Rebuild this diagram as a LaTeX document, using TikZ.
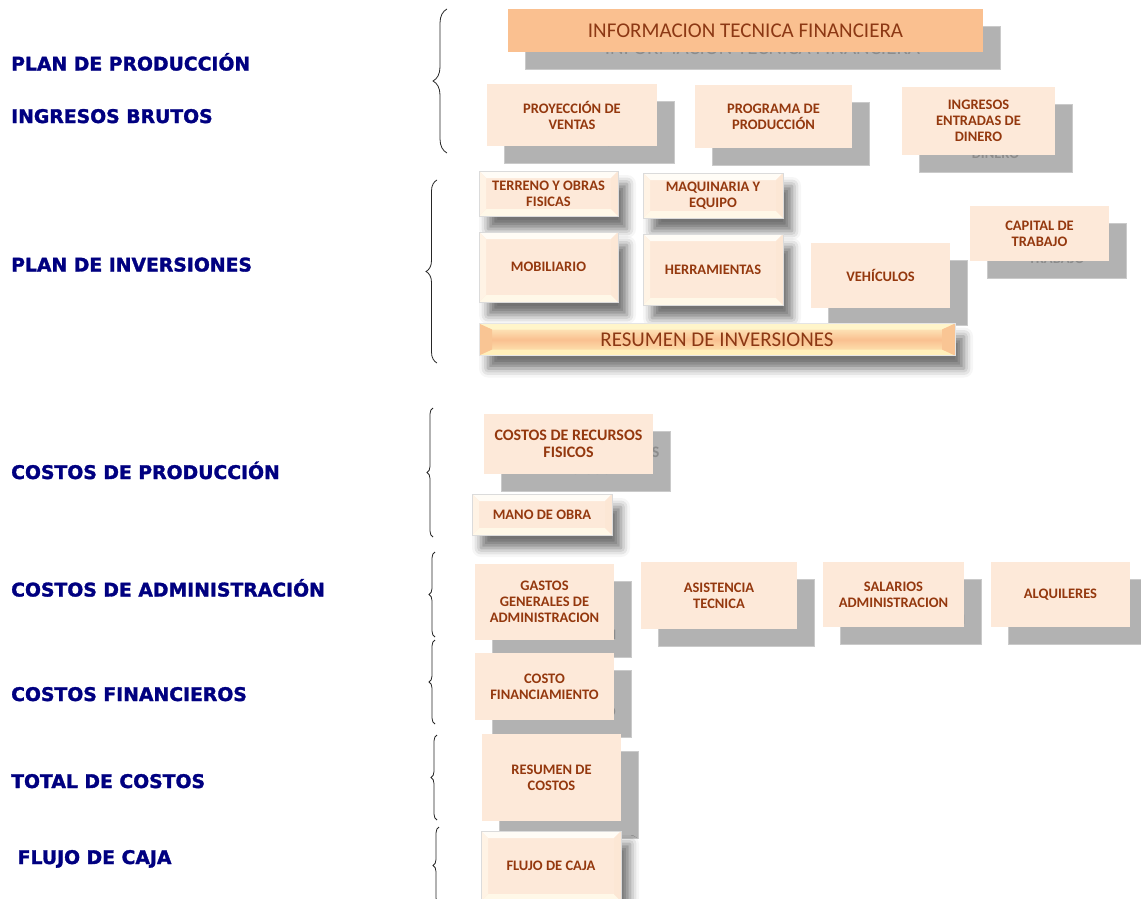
\documentclass[tikz,border=0pt]{standalone}
\usepackage{fontspec}
\setmainfont{Carlito}
\newfontfamily\headfamily{DejaVu Sans}[BoldFeatures={FakeBold=1.6}]
\usetikzlibrary{decorations.pathreplacing,shadows.blur}

\definecolor{navy}{RGB}{0,0,128}
\definecolor{peachface}{RGB}{253,233,217}
\definecolor{titleorange}{RGB}{250,192,144}
\definecolor{cardtext}{RGB}{148,56,14}
\definecolor{titletext}{RGB}{140,56,20}
\definecolor{shadowgray}{RGB}{178,178,178}
\definecolor{shadowedge}{RGB}{202,202,202}
\definecolor{ghostgray}{RGB}{140,140,140}
\definecolor{bevtop}{RGB}{255,252,246}
\definecolor{bevbot}{RGB}{255,248,232}
\definecolor{bevleft}{RGB}{255,243,229}
\definecolor{bevright}{RGB}{252,231,213}
\definecolor{bartop}{RGB}{255,245,202}
\definecolor{barbot}{RGB}{255,239,186}
\definecolor{barside}{RGB}{249,197,148}

\newcommand\cardfont{\fontsize{14.5}{16}\selectfont\bfseries}
\newcommand\bigfont{\fontsize{21}{24}\selectfont}
\newcommand\headfont{\headfamily\bfseries\fontsize{18.8}{22}\selectfont}

\pgfdeclarelayer{background}
\pgfsetlayers{background,main}

\tikzset{
  wh/.style 2 args={minimum width=#1pt, minimum height=#2pt},
  head/.style={anchor=base west, inner sep=0pt, text=navy, font=\headfont},
  curly/.style={decorate, decoration={brace, amplitude=#1},
    line width=0.8pt, draw=black!85},
  card/.style={fill=peachface, text=cardtext, font=\cardfont,
    align=center, inner sep=0pt, outer sep=0pt},
  cardghost/.style={fill=shadowgray, draw=shadowedge, line width=0.6pt,
    text=ghostgray, font=\cardfont, align=center, inner sep=0pt},
  titlecard/.style={fill=titleorange, text=titletext, font=\bigfont,
    inner sep=0pt},
  titleghost/.style={fill=shadowgray, draw=shadowedge, line width=0.6pt,
    text=ghostgray, font=\bigfont, inner sep=0pt},
  bevelfaces/.style n args={6}{path picture={
    \coordinate (pnw) at (path picture bounding box.north west);
    \coordinate (pne) at (path picture bounding box.north east);
    \coordinate (psw) at (path picture bounding box.south west);
    \coordinate (pse) at (path picture bounding box.south east);
    \fill[#3] (pnw) -- (pne) -- ([shift={(-#1,-#2)}]pne)
      -- ([shift={(#1,-#2)}]pnw) -- cycle;
    \fill[#4] (psw) -- (pse) -- ([shift={(-#1,#2)}]pse)
      -- ([shift={(#1,#2)}]psw) -- cycle;
    \fill[#5] (pnw) -- ([shift={(#1,-#2)}]pnw)
      -- ([shift={(#1,#2)}]psw) -- (psw) -- cycle;
    \fill[#6] (pne) -- ([shift={(-#1,-#2)}]pne)
      -- ([shift={(-#1,#2)}]pse) -- (pse) -- cycle;
  }},
  softshadow/.style={blur shadow={shadow xshift=9pt, shadow yshift=-13pt,
    shadow blur radius=9pt, shadow opacity=55}},
  bevel/.style={card, draw=black!14, line width=0.5pt, softshadow,
    bevelfaces={7pt}{7pt}{bevtop}{bevbot}{bevleft}{bevright}},
  bevelbar/.style={draw=black!10, line width=0.5pt, softshadow,
    top color=bartop, bottom color=barbot, middle color=titleorange,
    text=titletext, font=\bigfont, inner sep=0pt,
    bevelfaces={13pt}{6pt}{bartop}{barbot}{barside}{barside}},
}

\begin{document}
\begin{tikzpicture}[x=1pt, y=-1pt]
  \useasboundingbox (0,0) rectangle (1141,899);

  % headings on the left
  \node[head] (h-plan) at (11,70.5) {PLAN DE PRODUCCIÓN};
  \node[head] (h-ingr) at (11,123) {INGRESOS BRUTOS};
  \node[head] (h-inv) at (11,271.5) {PLAN DE INVERSIONES};
  \node[head] (h-cprod) at (11,479) {COSTOS DE PRODUCCIÓN};
  \node[head] (h-cadm) at (11,596.5) {COSTOS DE ADMINISTRACIÓN};
  \node[head] (h-cfin) at (11,701) {COSTOS FINANCIEROS};
  \node[head] (h-total) at (11,788) {TOTAL DE COSTOS};
  \node[head] (h-flujo) at (17.5,864) {FLUJO DE CAJA};

  % braces
  \draw[curly=14pt] (447,153) -- (447,9);
  \draw[curly=11pt] (437,363) -- (437,180);
  \draw[curly=6pt] (433,537) -- (433,408);
  \draw[curly=6pt] (435,637) -- (435,552);
  \draw[curly=6pt] (435,724) -- (435,640);
  \draw[curly=6pt] (437,820) -- (437,735);
  \draw[curly=6pt] (439,904) -- (439,827);

  % informacion tecnica
  \node[titlecard, wh={475}{43}] (info) at (745.5,30.5)
    {INFORMACION TECNICA FINANCIERA};
  \node[card, wh={170}{62}] (proy) at (572,115) {PROYECCIÓN DE\\VENTAS};
  \node[card, wh={157}{63}] (prog) at (773.5,116.5) {PROGRAMA DE\\PRODUCCIÓN};
  \node[card, wh={153}{68}] (ingr) at (978.5,121)
    {INGRESOS\\ENTRADAS DE\\DINERO};

  % inversiones
  \node[bevel, wh={139}{45}] (terr) at (548.5,193.5) {TERRENO Y OBRAS\\FISICAS};
  \node[bevel, wh={140}{45}] (maq) at (713,195.5) {MAQUINARIA Y\\EQUIPO};
  \node[bevel, wh={139}{70}] (mob) at (548.5,267) {MOBILIARIO};
  \node[bevel, wh={140}{71}] (herr) at (713,269.5) {HERRAMIENTAS};
  \node[card, wh={139}{65}] (veh) at (880.5,275.5) {VEHÍCULOS};
  \node[card, wh={139}{55}] (cap) at (1039.5,233.5) {CAPITAL DE\\TRABAJO};
  \node[bevelbar, wh={476}{32}] (resinv) at (717,339.5) {RESUMEN DE INVERSIONES};

  % costos
  \node[card, wh={169}{60}, font=\fontsize{16}{16.5}\selectfont\bfseries]
    (crf) at (568.5,444) {COSTOS DE RECURSOS\\FISICOS};
  \node[bevel, wh={140}{41}] (mano) at (542,514.5) {MANO DE OBRA};
  \node[card, wh={139}{76}] (gast) at (544.5,602)
    {GASTOS\\GENERALES DE\\ADMINISTRACION};
  \node[card, wh={156}{67}] (asis) at (719,595.5) {ASISTENCIA\\TECNICA};
  \node[card, wh={141}{65}] (sal) at (893.5,594.5) {SALARIOS\\ADMINISTRACION};
  \node[card, wh={139}{65}] (alq) at (1060.5,594.5) {ALQUILERES};
  \node[card, wh={139}{67}] (cfin) at (544.5,686.5) {COSTO\\FINANCIAMIENTO};
  \node[card, wh={139}{87}] (rcos) at (551.5,777.5) {RESUMEN DE\\COSTOS};
  \node[bevel, wh={140}{70}] (flujo) at (551,866) {FLUJO DE CAJA};

  % gray copies behind the cards
  \begin{pgfonlayer}{background}
    \node[titleghost, wh={475}{43}] (info-s) at ([shift={(17pt,-17pt)}]info.center)
      {INFORMACION TECNICA FINANCIERA};
    \node[cardghost, wh={170}{62}] (proy-s) at ([shift={(17pt,-17pt)}]proy.center)
      {PROYECCIÓN DE\\VENTAS};
    \node[cardghost, wh={157}{63}] (prog-s) at ([shift={(17pt,-17pt)}]prog.center)
      {PROGRAMA DE\\PRODUCCIÓN};
    \node[cardghost, wh={153}{68}] (ingr-s) at ([shift={(17pt,-17pt)}]ingr.center)
      {INGRESOS\\ENTRADAS DE\\DINERO};
    \node[cardghost, wh={139}{65}] (veh-s) at ([shift={(17pt,-17pt)}]veh.center)
      {VEHÍCULOS};
    \node[cardghost, wh={139}{55}] (cap-s) at ([shift={(17pt,-17pt)}]cap.center)
      {CAPITAL DE\\TRABAJO};
    \node[cardghost, wh={169}{60}, font=\fontsize{16}{16.5}\selectfont\bfseries]
      (crf-s) at ([shift={(17pt,-17pt)}]crf.center) {COSTOS DE RECURSOS\\FISICOS};
    \node[cardghost, wh={139}{76}] (gast-s) at ([shift={(17pt,-17pt)}]gast.center)
      {GASTOS\\GENERALES DE\\ADMINISTRACION};
    \node[cardghost, wh={156}{67}] (asis-s) at ([shift={(17pt,-17pt)}]asis.center)
      {ASISTENCIA\\TECNICA};
    \node[cardghost, wh={141}{65}] (sal-s) at ([shift={(17pt,-17pt)}]sal.center)
      {SALARIOS\\ADMINISTRACION};
    \node[cardghost, wh={139}{65}] (alq-s) at ([shift={(17pt,-17pt)}]alq.center)
      {ALQUILERES};
    \node[cardghost, wh={139}{67}] (cfin-s) at ([shift={(17pt,-17pt)}]cfin.center)
      {COSTO\\FINANCIAMIENTO};
    \node[cardghost, wh={139}{87}] (rcos-s) at ([shift={(17pt,-17pt)}]rcos.center)
      {RESUMEN DE\\COSTOS};
  \end{pgfonlayer}

\end{tikzpicture}
\end{document}
